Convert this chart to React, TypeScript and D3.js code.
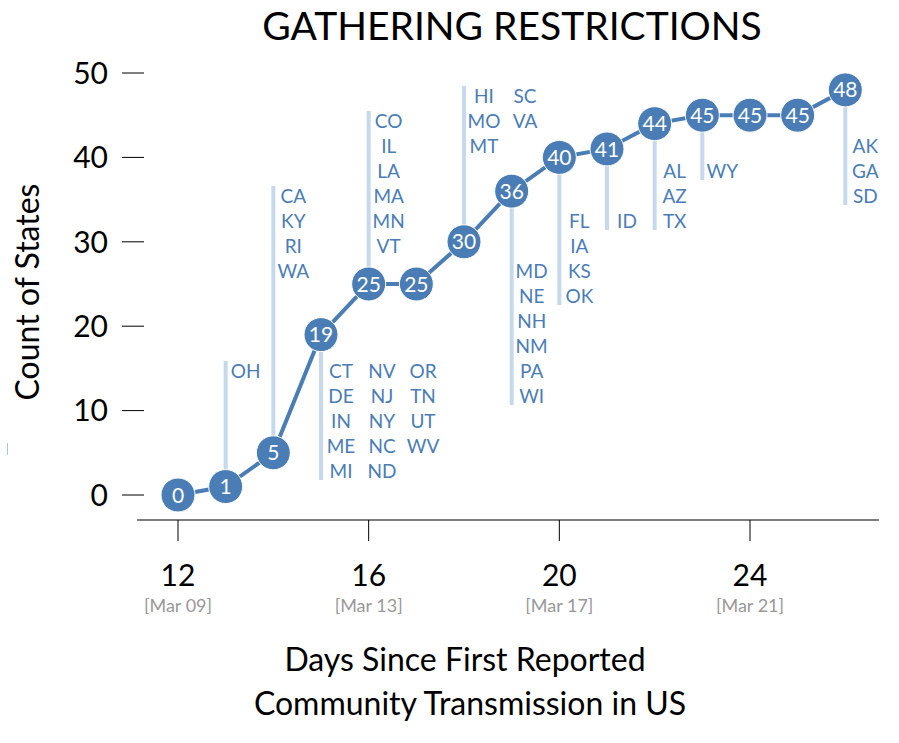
import React from "react";
import * as d3 from "d3";

const days = [12, 13, 14, 15, 16, 17, 18, 19, 20, 21, 22, 23, 24, 25, 26];
const counts = [0, 1, 5, 19, 25, 25, 30, 36, 40, 41, 44, 45, 45, 45, 48];
const xTicks = [12, 16, 20, 24];
const dateLabels = ["[Mar 09]", "[Mar 13]", "[Mar 17]", "[Mar 21]"];
const yTicks = [0, 10, 20, 30, 40, 50];

// states that added restrictions on each day (columns of labels)
const groupDays = [13, 14, 15, 16, 18, 19, 20, 21, 22, 23, 26];
const groupStates: string[][][] = [
  [["OH"]],
  [["CA", "KY", "RI", "WA"]],
  [["CT", "DE", "IN", "ME", "MI"], ["NV", "NJ", "NY", "NC", "ND"], ["OR", "TN", "UT", "WV"]],
  [["CO", "IL", "LA", "MA", "MN", "VT"]],
  [["HI", "MO", "MT"], ["SC", "VA"]],
  [["MD", "NE", "NH", "NM", "PA", "WI"]],
  [["FL", "IA", "KS", "OK"]],
  [["ID"]],
  [["AL", "AZ", "TX"]],
  [["WY"]],
  [["AK", "GA", "SD"]],
];

// layout: label placement (direction and first row on the label grid)
const groupLayout = [
  { dir: "up", row: 11 },
  { dir: "up", row: 4 },
  { dir: "down", row: 11 },
  { dir: "up", row: 1 },
  { dir: "up", row: 0 },
  { dir: "down", row: 7 },
  { dir: "down", row: 5 },
  { dir: "down", row: 5 },
  { dir: "down", row: 3 },
  { dir: "down", row: 3 },
  { dir: "down", row: 2 },
];

const FONT = "Lato, 'Open Sans', sans-serif";
const BLUE = "#4a7db5";
const LIGHT = "#c5d8ec";
const ROW0 = 96;
const ROW_H = 25;
const COL_W = 41;

export default function App() {
  const x = d3.scaleLinear().domain([12, 24]).range([178, 750]);
  const y = d3.scaleLinear().domain([0, 50]).range([495, 73]);
  const pts = days.map((d, i) => [x(d), y(counts[i])] as [number, number]);
  const line = d3.line()(pts) || "";

  return (
    <svg width={899} height={743} style={{ position: "absolute", left: 0, top: 0 }}>
      <rect width={899} height={743} fill="#fff" />
      <text x={512} y={40} textAnchor="middle" fontFamily={FONT} fontSize={39} fill="#000">
        GATHERING RESTRICTIONS
      </text>

      {/* y axis */}
      {yTicks.map((t) => (
        <g key={t}>
          <line x1={122} x2={144} y1={y(t)} y2={y(t)} stroke="#000" strokeWidth={1} />
          <text x={108} y={y(t)} dy="0.36em" textAnchor="end" fontFamily={FONT} fontSize={30} fill="#000">
            {t}
          </text>
        </g>
      ))}
      <text
        transform="translate(39,292) rotate(-90)"
        textAnchor="middle"
        fontFamily={FONT}
        fontSize={32}
        fill="#000"
      >
        Count of States
      </text>
      <line x1={7.5} x2={7.5} y1={443} y2={455} stroke="#9cc7e6" strokeWidth={1} />

      {/* x axis */}
      <line x1={137} x2={879} y1={520} y2={520} stroke="#000" strokeWidth={1.2} />
      {xTicks.map((t, i) => (
        <g key={t}>
          <line x1={x(t)} x2={x(t)} y1={520} y2={541} stroke="#000" strokeWidth={1} />
          <text x={x(t)} y={586} textAnchor="middle" fontFamily={FONT} fontSize={30} fill="#000">
            {t}
          </text>
          <text x={x(t)} y={612} textAnchor="middle" fontFamily={FONT} fontSize={18} fill="#999">
            {dateLabels[i]}
          </text>
        </g>
      ))}
      <text x={465} y={671} textAnchor="middle" fontFamily={FONT} fontSize={32} fill="#000">
        Days Since First Reported
      </text>
      <text x={470} y={715} textAnchor="middle" fontFamily={FONT} fontSize={32} fill="#000">
        Community Transmission in US
      </text>

      {/* state label groups */}
      {groupDays.map((d, gi) => {
        const cx = x(d);
        const cy = y(counts[days.indexOf(d)]);
        const lay = groupLayout[gi];
        const cols = groupStates[gi];
        const nRows = Math.max(...cols.map((c) => c.length));
        const first = ROW0 + lay.row * ROW_H;
        const last = first + (nRows - 1) * ROW_H;
        const end = lay.dir === "up" ? first - 10 : last + 9;
        return (
          <g key={d}>
            <line x1={cx} x2={cx} y1={cy} y2={end} stroke={LIGHT} strokeWidth={4} />
            {cols.map((col, ci) =>
              col.map((s, ri) => (
                <text
                  key={s}
                  x={cx + 20 + ci * COL_W}
                  y={first + ri * ROW_H}
                  dy="0.36em"
                  textAnchor="middle"
                  fontFamily={FONT}
                  fontSize={19}
                  fill={BLUE}
                >
                  {s}
                </text>
              ))
            )}
          </g>
        );
      })}

      {/* line and points */}
      <path d={line} fill="none" stroke={BLUE} strokeWidth={4} />
      {pts.map(([px, py], i) => (
        <g key={i}>
          <circle cx={px} cy={py} r={17} fill={BLUE} stroke="#fff" strokeWidth={1} />
          <text x={px} y={py} dy="0.36em" textAnchor="middle" fontFamily={FONT} fontSize={21} fill="#fff">
            {counts[i]}
          </text>
        </g>
      ))}
    </svg>
  );
}
